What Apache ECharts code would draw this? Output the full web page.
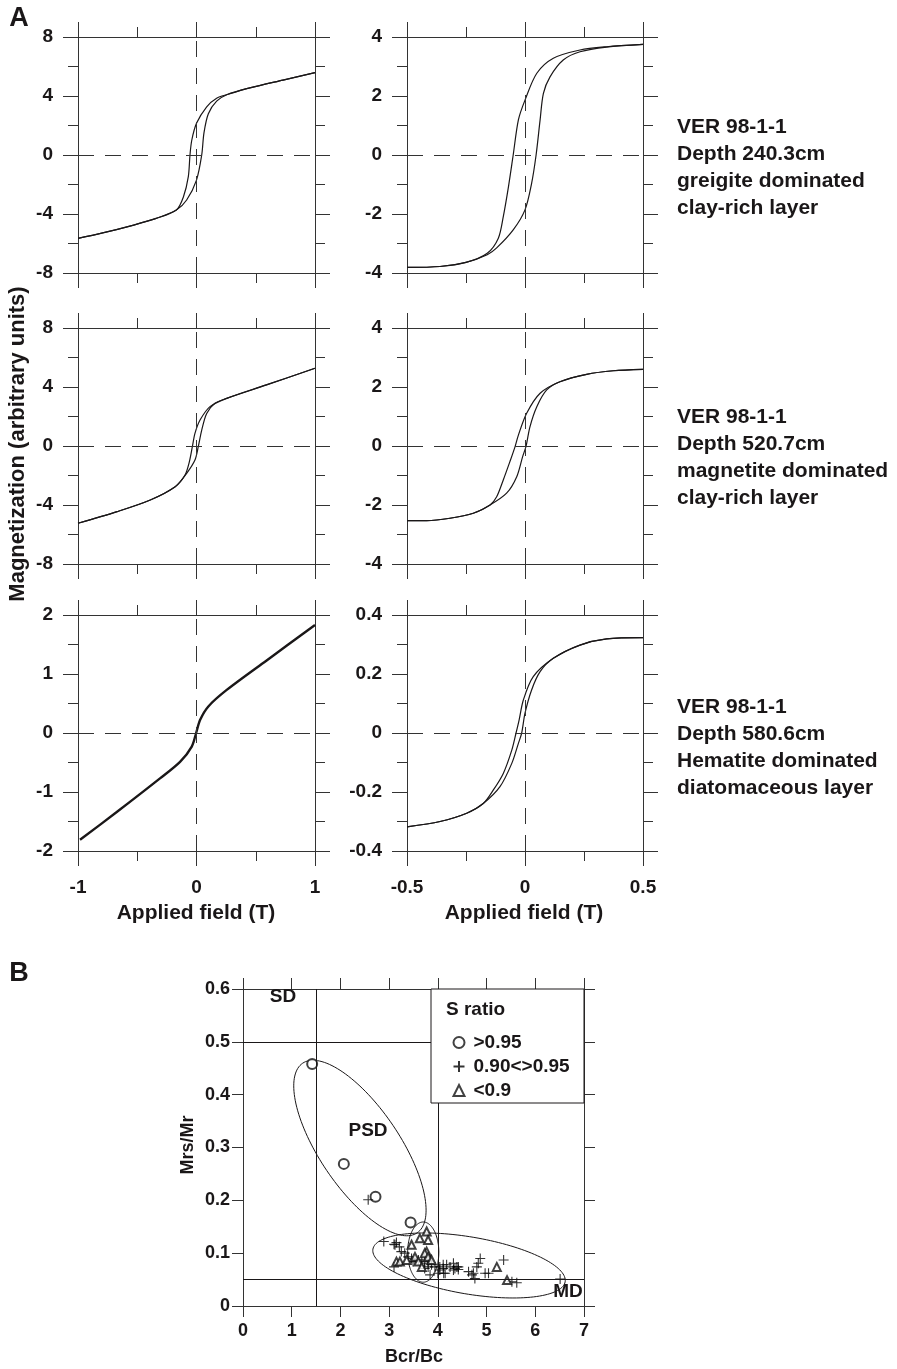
<!DOCTYPE html>
<html>
<head>
<meta charset="utf-8">
<title>Hysteresis loops and Day plot</title>
<script src="https://cdn.jsdelivr.net/npm/echarts@6/dist/echarts.min.js"></script>
<style>
  html, body { margin: 0; padding: 0; background: #fff; }
  #chart { width: 897px; height: 1369px; }
</style>
</head>
<body>
<div id="chart"></div>
<script>
// ---- panel A data: hysteresis loops (field in T, magnetization in arbitrary units)
// greigite, 240.3cm, +-1 T
const greigWideDescX = [-1, -0.8, -0.53, -0.34, -0.17, -0.11, -0.069, -0.055, -0.04, 0, 0.086, 0.17, 0.26, 0.45, 0.73, 1]
const greigWideDescY = [-5.65, -5.3, -4.75, -4.3, -3.73, -2.83, -1.47, 0, 1.0, 2.15, 3.27, 3.85, 4.1, 4.55, 5.08, 5.58]
const greigWideAscX = [-1, -0.8, -0.53, -0.34, -0.17, -0.083, 0, 0.044, 0.063, 0.1, 0.17, 0.26, 0.45, 0.73, 1]
const greigWideAscY = [-5.65, -5.3, -4.75, -4.3, -3.73, -3.05, -1.7, 0, 1.5, 2.8, 3.65, 4.1, 4.55, 5.08, 5.58]
// greigite, +-0.5 T
const greigDescX = [-0.5, -0.36, -0.25, -0.16, -0.113, -0.092, -0.07, -0.05, -0.028, 0, 0.05, 0.12, 0.233, 0.346, 0.5]
const greigDescY = [-3.81, -3.78, -3.64, -3.33, -2.82, -2.09, -1.07, 0, 1.19, 1.86, 2.77, 3.28, 3.56, 3.67, 3.75]
const greigAscX = [-0.5, -0.36, -0.25, -0.16, -0.12, -0.05, 0, 0.028, 0.047, 0.064, 0.078, 0.106, 0.162, 0.233, 0.346, 0.5]
const greigAscY = [-3.81, -3.78, -3.64, -3.38, -3.15, -2.54, -1.86, -0.96, 0, 1.19, 2.09, 2.65, 3.22, 3.5, 3.66, 3.75]
// magnetite, 520.7cm, +-1 T
const magnWideDescX = [-1, -0.67, -0.39, -0.18, -0.097, -0.06, -0.035, -0.013, 0.03, 0.114, 0.255, 0.59, 1]
const magnWideDescY = [-5.24, -4.45, -3.66, -2.76, -1.97, -1.06, -0.05, 0.86, 1.76, 2.67, 3.23, 4.14, 5.27]
const magnWideAscX = [-1, -0.67, -0.39, -0.18, -0.083, -0.013, 0.015, 0.044, 0.086, 0.156, 0.255, 0.59, 1]
const magnWideAscY = [-5.24, -4.45, -3.66, -2.76, -1.85, -0.95, -0.05, 1.08, 2.21, 2.9, 3.23, 4.14, 5.27]
// magnetite, +-0.5 T
const magnDescX = [-0.5, -0.417, -0.318, -0.219, -0.148, -0.12, -0.092, -0.064, -0.042, -0.028, 0.007, 0.064, 0.148, 0.261, 0.374, 0.5]
const magnDescY = [-2.53, -2.53, -2.45, -2.28, -2.0, -1.72, -1.15, -0.53, -0.02, 0.37, 1.11, 1.79, 2.18, 2.43, 2.55, 2.6]
const magnAscX = [-0.5, -0.417, -0.318, -0.219, -0.148, -0.078, -0.035, -0.01, 0.004, 0.021, 0.05, 0.092, 0.148, 0.261, 0.374, 0.5]
const magnAscY = [-2.53, -2.53, -2.45, -2.28, -2.0, -1.6, -1.04, -0.36, -0.02, 0.65, 1.33, 1.9, 2.18, 2.43, 2.55, 2.6]
// hematite, 580.6cm, +-1 T (loop closed, one thick line)
const hemWideX = [-0.983, -0.673, -0.308, -0.139, -0.04, -0.003, 0.03, 0.1, 0.255, 0.592, 1.0]
const hemWideY = [-1.81, -1.34, -0.77, -0.49, -0.23, 0, 0.22, 0.45, 0.73, 1.23, 1.83]
// hematite, +-0.5 T
const hemDescX = [-0.5, -0.36, -0.247, -0.177, -0.134, -0.092, -0.056, -0.038, -0.025, -0.007, 0.035, 0.12, 0.233, 0.346, 0.5]
const hemDescY = [-0.318, -0.3, -0.272, -0.239, -0.193, -0.137, -0.058, 0, 0.044, 0.112, 0.191, 0.253, 0.298, 0.319, 0.323]
const hemAscX = [-0.5, -0.36, -0.247, -0.177, -0.106, -0.056, -0.028, -0.014, 0, 0.028, 0.064, 0.12, 0.233, 0.346, 0.5]
const hemAscY = [-0.318, -0.3, -0.272, -0.239, -0.182, -0.103, -0.035, 0, 0.067, 0.146, 0.208, 0.253, 0.298, 0.319, 0.323]

// ---- panel B data: Day plot (Bcr/Bc, Mrs/Mr)
const sHigh = [[1.42, 0.458], [2.07, 0.269], [2.72, 0.207], [3.44, 0.158]]
const sMid = [
  [2.57, 0.201], [2.89, 0.122], [3.1, 0.117], [3.15, 0.12], [3.21, 0.112], [3.25, 0.103],
  [3.32, 0.1], [3.39, 0.093], [3.46, 0.09], [3.49, 0.084], [3.53, 0.088], [3.6, 0.087],
  [3.67, 0.087], [3.73, 0.084], [3.73, 0.071], [3.8, 0.081], [3.8, 0.074], [3.84, 0.059],
  [3.87, 0.078], [3.94, 0.074], [4.0, 0.062], [4.04, 0.074], [4.04, 0.068], [4.11, 0.071],
  [4.11, 0.078], [4.12, 0.062], [4.15, 0.062], [4.18, 0.078], [4.25, 0.074], [4.32, 0.081],
  [4.32, 0.068], [4.35, 0.071], [4.39, 0.074], [4.42, 0.069], [4.42, 0.074], [4.63, 0.065],
  [4.7, 0.059], [4.73, 0.062], [4.76, 0.052], [4.8, 0.074], [4.83, 0.081], [4.87, 0.09],
  [4.97, 0.062], [5.04, 0.062], [5.35, 0.087], [5.52, 0.046], [5.62, 0.044], [6.51, 0.051],
  [3.1, 0.074], [3.12, 0.116]
]
const sLow = [
  [3.77, 0.141], [3.63, 0.128], [3.8, 0.125], [3.46, 0.116], [3.77, 0.103], [3.73, 0.1],
  [3.8, 0.093], [3.15, 0.084], [3.22, 0.084], [3.36, 0.087], [3.53, 0.093], [3.6, 0.084],
  [3.67, 0.074], [3.87, 0.087], [5.21, 0.074], [5.42, 0.049]
]
// ellipses: centre, end of long axis, end of short axis (data units)
const ellipses = [
  [2.40, 0.299, 1.224, 0.4595, 3.08, 0.3417],
  [4.64, 0.0767, 6.613, 0.0458, 4.739, 0.1299],
  [3.70, 0.102, 3.70, 0.159, 4.02, 0.102]
]
const domainX = [1.5, 4]
const domainY = [0.5, 0.05]

const TXT = '#1a1718'
const AX = '#333'
const FONT = '"Liberation Sans", Arial, Helvetica, sans-serif'

const zip = (xs, ys) => xs.map((x, i) => [x, ys[i]])

// grids: three rows of loops (left +-1 T, right +-0.5 T) and the Day plot
const grids = [
  { left: 78, top: 37, width: 237, height: 236 },
  { left: 407, top: 37, width: 236, height: 236 },
  { left: 78, top: 328, width: 237, height: 236 },
  { left: 407, top: 328, width: 236, height: 236 },
  { left: 78, top: 615, width: 237, height: 236 },
  { left: 407, top: 615, width: 236, height: 236 },
  { left: 243, top: 989, width: 341, height: 317 }
]

function axes(dim, gi, min, max, interval, showLabel, tick, minor, margin, size) {
  const base = {
    type: 'value', gridIndex: gi, min: min, max: max, interval: interval,
    axisLine: { show: true, onZero: false, lineStyle: { color: AX, width: 1 } },
    axisTick: { show: true, length: tick, lineStyle: { color: AX, width: 1 } },
    minorTick: { show: minor > 0, splitNumber: 2, length: minor, lineStyle: { color: AX, width: 1 } },
    splitLine: { show: false },
    minorSplitLine: { show: false }
  }
  const pos = dim === 'x' ? ['bottom', 'top'] : ['left', 'right']
  return [
    Object.assign({}, base, {
      position: pos[0],
      axisLabel: { show: showLabel, margin: margin, fontFamily: FONT, fontWeight: 'bold', fontSize: size, color: TXT }
    }),
    Object.assign({}, base, { position: pos[1], axisLabel: { show: false } })
  ]
}

const xAxis = [].concat(
  axes('x', 0, -1, 1, 1, false, 15, 10, 27, 19),
  axes('x', 1, -0.5, 0.5, 0.5, false, 15, 10, 27, 19),
  axes('x', 2, -1, 1, 1, false, 15, 10, 27, 19),
  axes('x', 3, -0.5, 0.5, 0.5, false, 15, 10, 27, 19),
  axes('x', 4, -1, 1, 1, true, 15, 10, 27, 19),
  axes('x', 5, -0.5, 0.5, 0.5, true, 15, 10, 27, 19),
  axes('x', 6, 0, 7, 1, true, 11, 0, 16, 18)
)
const yAxis = [].concat(
  axes('y', 0, -8, 8, 4, true, 15, 10, 25, 19),
  axes('y', 1, -4, 4, 2, true, 15, 10, 25, 19),
  axes('y', 2, -8, 8, 4, true, 15, 10, 25, 19),
  axes('y', 3, -4, 4, 2, true, 15, 10, 25, 19),
  axes('y', 4, -2, 2, 1, true, 15, 10, 25, 19),
  axes('y', 5, -0.4, 0.4, 0.2, true, 15, 10, 25, 19),
  axes('y', 6, 0, 0.6, 0.1, true, 11, 0, 13, 18)
)

const zeroLines = {
  silent: true, symbol: 'none', label: { show: false },
  lineStyle: { color: AX, width: 1, type: [16, 11] },
  data: [{ xAxis: 0 }, { yAxis: 0 }]
}

function loop(gi, xs, ys, width, withZero) {
  const s = {
    type: 'line', xAxisIndex: gi * 2, yAxisIndex: gi * 2,
    data: zip(xs, ys), showSymbol: false, smooth: 0.3, silent: true,
    lineStyle: { color: TXT, width: width }
  }
  if (withZero) s.markLine = zeroLines
  return s
}

const series = [
  loop(0, greigWideDescX, greigWideDescY, 1.2, true),
  loop(0, greigWideAscX, greigWideAscY, 1.2, false),
  loop(1, greigDescX, greigDescY, 1.2, true),
  loop(1, greigAscX, greigAscY, 1.2, false),
  loop(2, magnWideDescX, magnWideDescY, 1.2, true),
  loop(2, magnWideAscX, magnWideAscY, 1.2, false),
  loop(3, magnDescX, magnDescY, 1.2, true),
  loop(3, magnAscX, magnAscY, 1.2, false),
  loop(4, hemWideX, hemWideY, 2.4, true),
  loop(5, hemDescX, hemDescY, 1.2, true),
  loop(5, hemAscX, hemAscY, 1.2, false),
  {
    type: 'custom', xAxisIndex: 12, yAxisIndex: 12, silent: true,
    data: ellipses,
    encode: { x: 0, y: 1 },
    renderItem: function(params, api) {
      const c = api.coord([api.value(0), api.value(1)])
      const a = api.coord([api.value(2), api.value(3)])
      const b = api.coord([api.value(4), api.value(5)])
      const pts = []
      for (let k = 0; k < 144; k++) {
        const t = k / 144 * Math.PI * 2
        pts.push([
          c[0] + (a[0] - c[0]) * Math.cos(t) + (b[0] - c[0]) * Math.sin(t),
          c[1] + (a[1] - c[1]) * Math.cos(t) + (b[1] - c[1]) * Math.sin(t)
        ])
      }
      return { type: 'polygon', shape: { points: pts }, style: { fill: 'none', stroke: TXT, lineWidth: 1 } }
    },
    markLine: {
      silent: true, symbol: 'none', label: { show: false },
      lineStyle: { color: TXT, width: 1, type: 'solid' },
      data: domainX.map(v => ({ xAxis: v })).concat(domainY.map(v => ({ yAxis: v })))
    }
  },
  {
    name: '>0.95', type: 'scatter', xAxisIndex: 12, yAxisIndex: 12, silent: true,
    data: sHigh, symbol: 'emptyCircle', symbolSize: 10,
    itemStyle: { color: '#111', borderColor: '#111', borderWidth: 1 }
  },
  {
    name: '0.90<>0.95', type: 'scatter', xAxisIndex: 12, yAxisIndex: 12, silent: true,
    data: sMid, symbol: 'path://M5 0 L5 10 M0 5 L10 5', symbolSize: 10,
    itemStyle: { color: 'none', borderColor: '#000', borderWidth: 1.1 }
  },
  {
    name: '<0.9', type: 'scatter', xAxisIndex: 12, yAxisIndex: 12, silent: true,
    data: sLow, symbol: 'emptyTriangle', symbolSize: 8,
    itemStyle: { color: '#111', borderColor: '#111', borderWidth: 1 }
  }
]

const bold = size => 'bold ' + size + 'px ' + FONT
function label(text, x, y, size, opts) {
  return Object.assign({
    type: 'text', x: x, y: y, z: 30,
    style: { text: text, font: bold(size), fill: TXT, textAlign: 'center', textVerticalAlign: 'middle' }
  }, opts || {})
}
function note(text, y) {
  return {
    type: 'text', x: 677, y: y, z: 30,
    style: { text: text, font: bold(21), fill: TXT, lineHeight: 27, textAlign: 'left', textVerticalAlign: 'top' }
  }
}

const graphic = [
  label('A', 19, 19, 27),
  label('B', 19, 974, 27),
  label('Magnetization (arbitrary units)', 18, 444, 22, { rotation: Math.PI / 2 }),
  label('Applied field (T)', 196, 913, 21),
  label('Applied field (T)', 524, 913, 21),
  note('VER 98-1-1\nDepth 240.3cm\ngreigite dominated\nclay-rich layer', 114),
  note('VER 98-1-1\nDepth 520.7cm\nmagnetite dominated\nclay-rich layer', 404),
  note('VER 98-1-1\nDepth 580.6cm\nHematite dominated\ndiatomaceous layer', 694),
  {
    type: 'rect', z: 20,
    shape: { x: 431, y: 989, width: 153, height: 114 },
    style: { fill: '#fff', stroke: TXT, lineWidth: 1 }
  },
  label('S ratio', 446, 1010, 19, { style: { text: 'S ratio', font: bold(19), fill: TXT, textAlign: 'left', textVerticalAlign: 'middle' } }),
  label('SD', 283, 997, 19),
  label('PSD', 368, 1131, 19),
  label('MD', 568, 1292, 19),
  label('Mrs/Mr', 188, 1145, 18, { rotation: Math.PI / 2 }),
  label('Bcr/Bc', 414, 1357, 18)
]

const chart = echarts.init(document.getElementById('chart'), null, { renderer: 'canvas' })
chart.setOption({
  backgroundColor: '#fff',
  animation: false,
  grid: grids,
  xAxis: xAxis,
  yAxis: yAxis,
  legend: {
    show: true, z: 40, selectedMode: false,
    data: ['>0.95', '0.90<>0.95', '<0.9'],
    orient: 'vertical', left: 446, top: 1028,
    itemWidth: 11, itemHeight: 11, itemGap: 5,
    textStyle: { fontFamily: FONT, fontWeight: 'bold', fontSize: 19, color: TXT, padding: [0, 0, 0, 4] }
  },
  graphic: graphic,
  series: series
})
</script>
</body>
</html>
